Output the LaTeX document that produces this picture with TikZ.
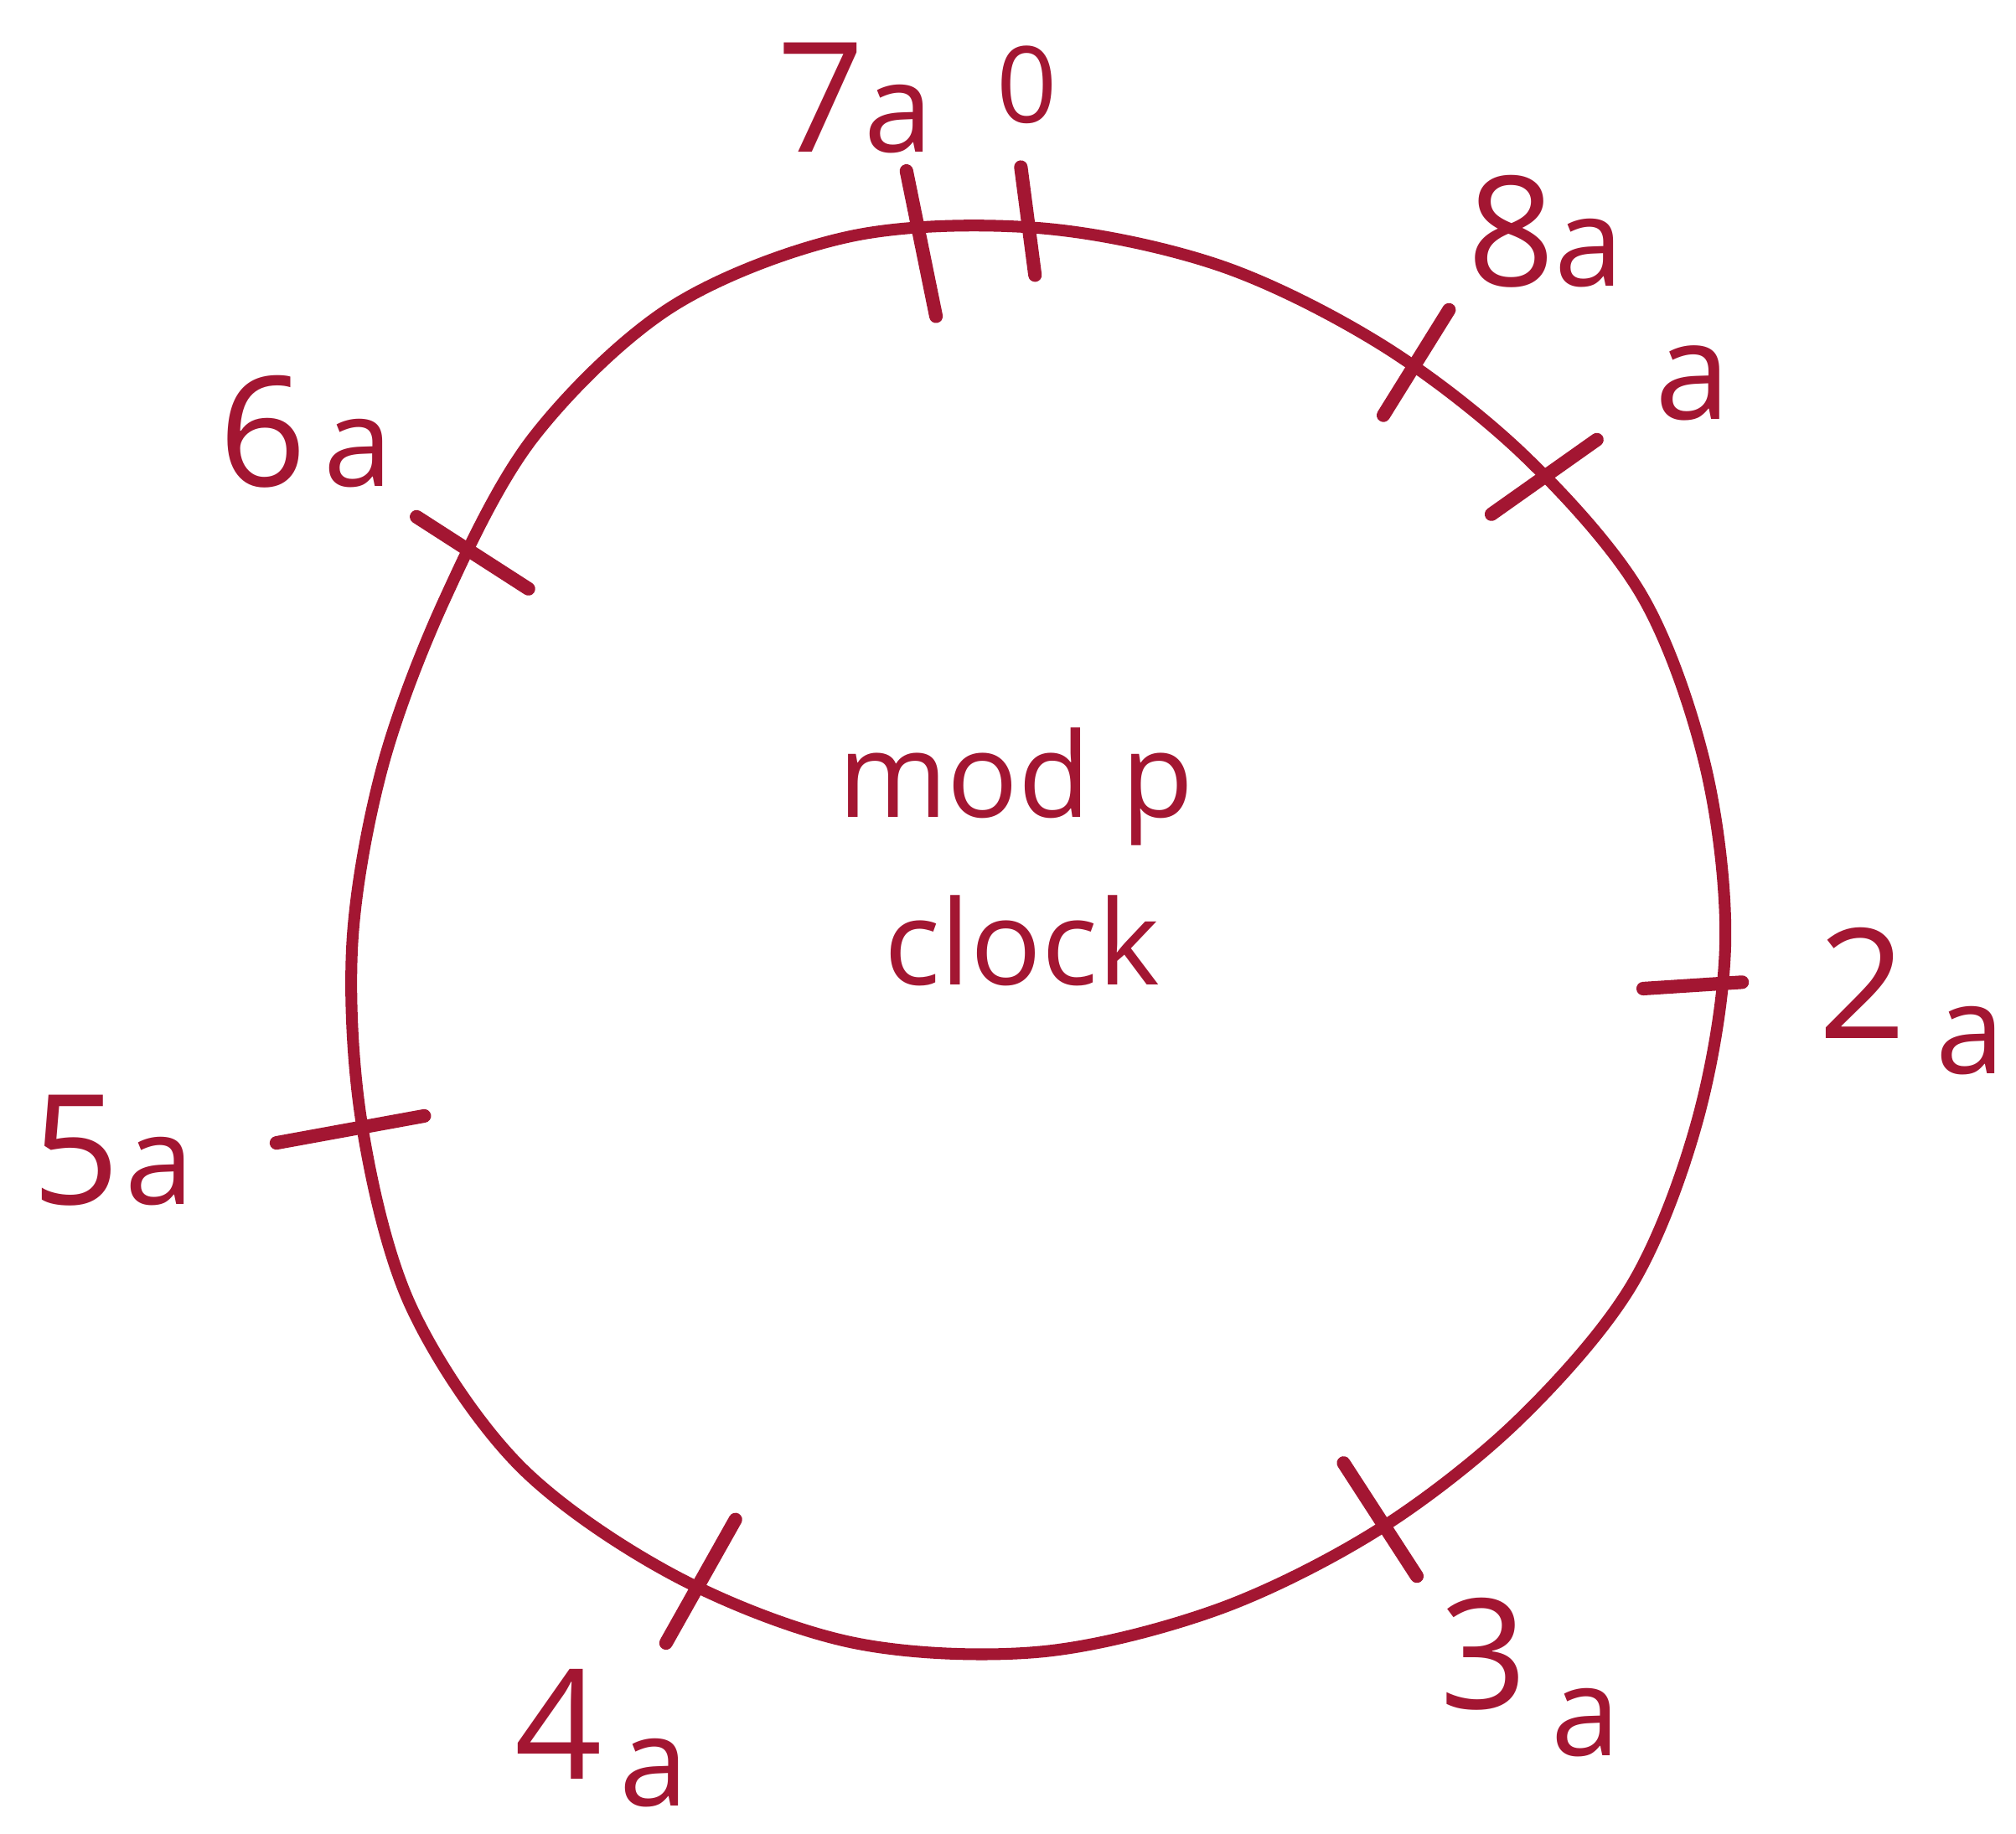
\documentclass[tikz,border=0pt]{standalone}
\usepackage{fontspec}
\setmainfont{Open Sans}
\definecolor{ink}{RGB}{163,22,50}
\newcommand\sma{{\fontsize{42}{42}\selectfont a}}
\begin{document}
\begin{tikzpicture}[x=0.015344cm,y=-0.015344cm,
  ring/.style={draw=ink,line width=4pt,line cap=round,line join=round},
  tick/.style={draw=ink,line width=4.6pt,line cap=round},
  lab/.style={text=ink,font=\fontsize{52}{56}\selectfont,inner sep=0pt},
  mid/.style={text=ink,font=\fontsize{40}{46}\selectfont,inner sep=0pt,align=center}]
\useasboundingbox (0,0) rectangle (1568,1426);
\coordinate (ctr) at (808.5,733.5);
\begin{scope}[shift={(ctr)},yscale=-1]
\draw[ring] plot[smooth cycle,tension=0.55] coordinates {
 (0:533.4) (15:535.9) (30:540.9) (45:534.7) (60:535.9) (75:545.2)
 (90:556.1) (105:569.0) (120:571.6) (135:556.5) (150:534.3) (165:529.1)
 (180:534.5) (195:545.6) (210:564.7) (225:573.5) (240:568.1) (255:563.3)
 (270:551.4) (285:536.6) (300:527.0) (315:525.8) (330:531.9) (345:530.0)};
\end{scope}
% ticks
\coordinate (t7a1) at (705,133); \coordinate (t7a2) at (728,246);
\coordinate (t01) at (794,130); \coordinate (t02) at (805,214);
\coordinate (t8a1) at (1127,241); \coordinate (t8a2) at (1076,323);
\coordinate (ta1) at (1242,342); \coordinate (ta2) at (1160,400);
\coordinate (t2a1) at (1278,769); \coordinate (t2a2) at (1355,764);
\coordinate (t3a1) at (1045,1138); \coordinate (t3a2) at (1102,1226);
\coordinate (t4a1) at (572,1182); \coordinate (t4a2) at (518,1278);
\coordinate (t5a1) at (215,889); \coordinate (t5a2) at (330,868);
\coordinate (t6a1) at (324,402); \coordinate (t6a2) at (411,458);
\draw[tick] (t7a1) -- (t7a2);
\draw[tick] (t01) -- (t02);
\draw[tick] (t8a1) -- (t8a2);
\draw[tick] (ta1) -- (ta2);
\draw[tick] (t2a1) -- (t2a2);
\draw[tick] (t3a1) -- (t3a2);
\draw[tick] (t4a1) -- (t4a2);
\draw[tick] (t5a1) -- (t5a2);
\draw[tick] (t6a1) -- (t6a2);
% labels
\node[lab] (l7a) at (665,76) {7\sma};
\node[lab,font=\fontsize{36}{40}\selectfont] (l0) at (799,66) {0};
\node[lab] (l8a) at (1202,180) {8\sma};
\node[lab,font=\fontsize{46}{50}\selectfont] (la) at (1317,298) {a};
\node[lab] (l2a) at (1487,779) {2\hspace{10pt}\raisebox{-12pt}{\sma}};
\node[lab] (l3a) at (1190,1305) {3\hspace{8pt}\raisebox{-16pt}{\sma}};
\node[lab] (l4a) at (468,1352) {4\hspace{6pt}\raisebox{-9pt}{\sma}};
\node[lab] (l5a) at (88,895) {5\hspace{2pt}\sma};
\node[lab] (l6a) at (238,336) {6\hspace{6pt}\sma};
\node[mid] (mod) at (790,612) {mod p};
\node[mid] (clk) at (795,732) {clock};
\end{tikzpicture}
\end{document}
